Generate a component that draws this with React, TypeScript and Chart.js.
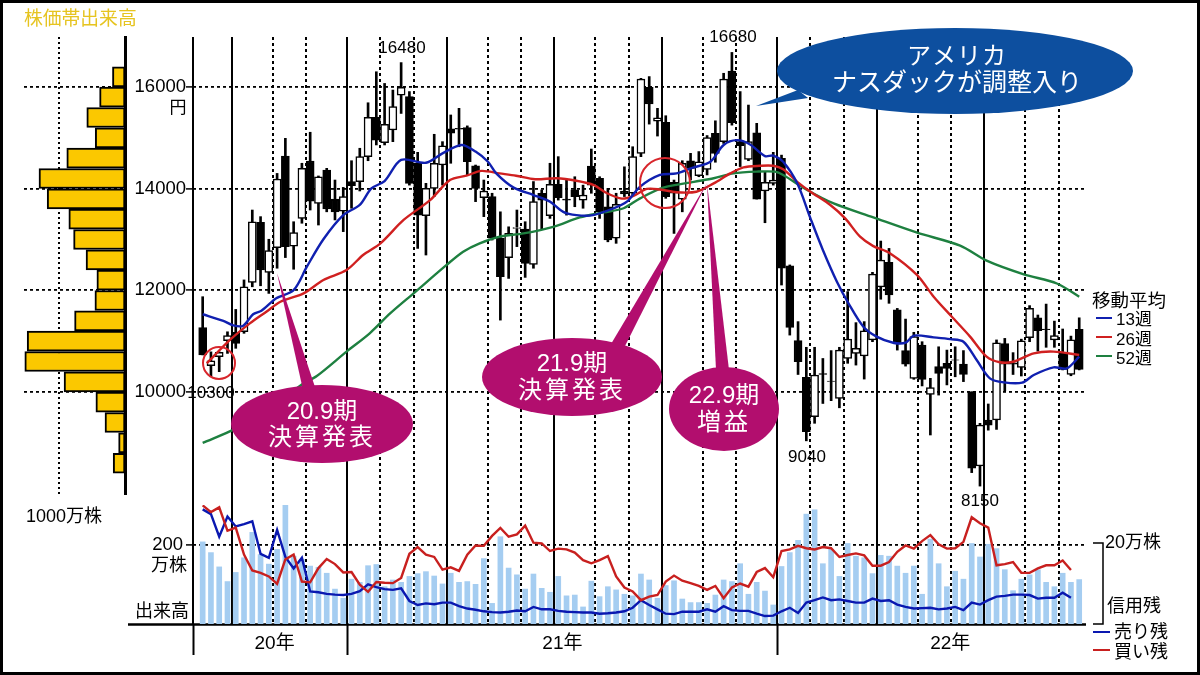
import React, { useEffect, useRef } from "react";
import { Chart, registerables } from "chart.js";
Chart.register(...registerables);

const FONT = '"Liberation Sans","Noto Sans CJK JP",sans-serif';

// weekly candles (yen)
const opens = [11270,10520,10695,11010,11175,11185,12155,13340,12355,12840,14640,12870,13415,14545,13710,14365,13795,13560,14140,14140,14630,15405,14905,15155,15840,15810,14500,13470,14005,14465,15175,15185,15200,14450,13825,13845,13025,12645,13220,13205,12510,13910,13470,14085,13795,13975,13775,14445,14205,13645,13025,13955,13910,14695,15995,15330,15305,14125,13795,14550,14255,14380,15090,14925,16315,14925,14575,15100,13955,14105,14595,12480,11010,10290,9515,10365,10215,9875,10660,10760,10710,11025,12070,12550,11615,10815,10270,10925,9955,10500,10565,10635,10550,10005,8545,9450,9450,10955,10575,10485,11070,11460,11240,11025,10760,10345,11235];
const closes = [10730,10615,10780,11110,10955,12070,13350,12400,12780,14190,12860,13135,14400,13755,14235,13600,13545,13845,14060,14630,15405,14955,15265,15615,15995,14105,13480,14005,14500,14845,15090,15170,14530,14005,13955,13025,12270,13120,13235,12530,13745,13775,14085,13825,13775,13845,13875,14070,13545,12990,13690,13895,14630,16155,15665,15395,13845,13910,14500,14400,14530,15005,14695,16155,15300,14845,14925,13795,14125,14170,12435,11270,10595,9220,10335,10345,10210,10825,11040,10860,11205,12320,12595,11910,10945,10550,11090,10250,10090,10365,10465,10625,10345,8500,9350,9350,10970,10550,10550,11005,11645,11205,11225,11110,10445,11025,10445];
const highs = [11875,10790,10790,11185,11625,12205,13580,13450,13005,14300,14990,13350,14500,15110,14250,14400,14170,14025,14550,14795,15690,16300,16070,15940,16480,15910,14715,14105,15070,14925,15450,15580,15235,14465,14170,13910,13545,13250,13580,13350,14140,13975,14500,14630,14170,14235,14070,14780,14235,14005,13910,14430,14825,16170,16205,15580,15435,14170,14550,14695,14730,15045,15335,16270,16680,15910,15645,15285,14335,14715,14660,12500,11385,10880,10880,10660,10815,10880,11975,11365,11385,12355,12970,12825,11645,11435,11175,10990,10270,10890,10825,10890,10815,10005,9385,9765,11025,11055,10775,11040,11700,11515,11730,11395,11240,11100,11460];
const lows = [10730,10300,10400,10760,10860,11155,12070,12090,11940,12435,12645,12415,13320,13580,13285,13545,13385,13155,13615,13955,14550,14860,14860,14925,15480,14070,12825,12695,13845,14070,14500,14825,14270,13745,13450,12990,11415,12235,12860,12255,12435,13205,13415,13775,13480,13645,13615,13910,13415,12955,12925,13845,13875,14630,15270,15035,13810,13120,13545,14170,14235,14270,14520,14890,15250,14435,14550,13795,13330,14070,12105,11120,10345,9040,9385,9775,9830,9690,10565,10530,10255,10990,11825,11745,10825,10510,10250,10120,9155,9940,10140,10300,10205,8415,8150,9250,9265,10025,10345,10315,10990,10805,10880,10880,10435,10320,10435];

// moving averages
const ma13Weeks = [0,2.5,3.7,4.9,6.1,7.1,8.9,11,12.6,14.6,17,19,20.4,22,24,27,29,31.3,33,34.5,35.5,37.6,40,42,43.6,45.2,47.2,49.7,51.3,52.9,55.3,57.3,59.3,61.4,63,64.6,66.2,68,69,70.2,71.9,73.5,75,76.7,78.1,79.9,81.5,83.5,85,86,88.4,90.4,92,93.6,95.2,96.9,99.1,100.5,102.9,104.5,106];
const ma13Prices = [11530,11400,11310,11305,11530,11600,11845,12005,12465,13005,13480,13680,14005,14150,14565,14510,14695,14860,14730,14530,14300,14020,13875,13745,13545,13480,13480,13615,13745,14040,14270,14300,14415,14530,14860,14955,14870,14640,14650,14530,14105,13415,12795,12170,11745,11285,11090,10970,10970,11110,11075,11040,10990,10630,10270,10190,10185,10335,10485,10465,10695];
const ma26Weeks = [0.5,3.3,5.7,7.7,9.4,12.2,14.6,17.4,19.4,21.5,24.3,27.5,29.9,31.9,33.7,35.9,37.9,40.2,42.8,45.2,47.3,48.9,50.7,52.1,53.7,55.3,57.3,59.7,61.8,63.8,65.4,67.4,69,70.2,71.9,73.5,75.9,77.7,79.5,81.1,83.1,86.4,88.4,90.6,92.8,94.8,96.4,98,100.5,102.9,106];
const ma26Prices = [10565,11025,11350,11580,11775,11940,12205,12400,12695,12925,13385,13775,14170,14255,14350,14300,14255,14185,14205,14155,14070,13910,13805,13860,13995,13985,13930,13940,14105,14300,14420,14450,14450,14380,14135,13940,13680,13415,13055,12870,12730,12300,11875,11480,11090,10695,10585,10595,10760,10795,10730];
const ma52Weeks = [0,4,8,12,13.8,17.4,20.2,22.7,25.5,29.5,31.5,33.5,35.9,38.8,42.4,45.6,48.5,50.9,52.9,55.7,59.4,61.8,64.2,67,69.2,70.2,73.1,76.3,81.1,86.4,91.6,94.8,99.3,103.3,106];
const ma52Prices = [9000,9280,9660,10150,10315,10795,11155,11550,11940,12500,12760,12925,13055,13120,13250,13435,13535,13615,13810,14020,14135,14205,14300,14335,14335,14270,13975,13710,13435,13135,12880,12585,12315,12135,11875];

// weekly volume, 万株
const volume = [207,180,144,107,130,167,231,175,151,188,300,171,163,146,143,128,88,65,113,105,147,150,94,111,105,120,127,132,121,101,128,105,107,100,165,52,220,141,124,88,126,90,80,120,71,73,43,108,69,94,86,75,71,126,111,65,97,109,63,54,54,52,73,111,107,152,75,105,83,48,145,180,211,277,288,152,188,120,203,171,167,127,173,171,146,128,146,75,214,152,94,133,113,203,169,201,190,137,84,113,124,137,105,94,128,105,112];
// margin balances, 万株
const sellBalance = [28.9,27.7,22,27.1,24.6,25.2,25.9,17.7,16.7,23.7,16.9,14,16.7,8.2,8,7.6,7.4,7.3,7.6,8.3,10,9.3,8.8,8.6,9,5.8,4.8,5.2,5,5.4,5.4,4.5,3.9,3.6,3.2,3,2.9,3.1,3.4,3.2,4.3,3.7,3.7,3.3,3.1,3,2.9,2.9,2.6,2.7,2.9,3.2,4.1,6,4.8,3.7,2.6,2.5,3.1,3.1,3.1,3.7,3.1,4.5,3.5,3.3,3.3,2.6,2,2.1,3.2,4.1,2.8,5.4,6,6.7,6,6.2,5.8,5.4,5.4,6.4,5.8,6,4.9,4.3,3.9,4,4.1,3.7,3.9,4.3,3.5,5.4,4.9,6,6.9,7.1,7.4,7.4,7.3,6.4,6.6,6.6,7.9,6.6];
const buyBalance = [29.9,28.2,29.4,23.5,24.3,17.5,13.5,12.9,12,10.1,16.3,17.5,10.7,10.5,14.1,16.4,15.1,13,13.1,9.9,8.1,10.6,10.4,10.3,11.6,17.7,19.4,17.5,16.9,13.7,14.3,13.4,17.5,19.8,19.7,22.2,24.2,22,22.6,24.8,20.5,20.3,18.4,19,18.8,18,16.1,15.3,16.1,17.1,12,9.2,8.2,6,6.9,7.3,10.7,12.2,10.9,10.3,9.6,8.6,9.6,6.5,9.2,10.2,9.4,13.1,14.1,11.8,18.4,18.8,19.7,19.1,18.8,19.4,19.1,16.9,17.4,17.8,17.3,14.7,14.7,15.6,18.2,19.8,19,20.9,22.4,20.1,19,19.1,20.7,26.9,25.4,24.3,14.8,15.1,15.6,12.9,12.9,14,14.8,14.8,16,13.6];

// volume by price band
const bandMids = [16200,15800,15400,15000,14600,14200,13800,13400,13000,12600,12200,11800,11400,11000,10600,10200,9800,9400,9000,8600];
const bandVolumes = [190,385,579,451,882,1303,1179,851,779,590,426,456,764,1482,1518,923,441,303,97,179];

const priceTicks = [10000,12000,14000,16000];
const solidWeeks = [-1.17,3.5,17.5,29.5,42.5,55.5,69.5,81.5,94.5];
const dottedWeeks = [8.5,12.5,21.5,25.5,34.5,38.5,47.5,51.5,60.5,64.5,73.5,77.5,86.5,90.5,99.5,103.5];
const yearEdges = [-1.17,17.5,69.5];
const yearLabelWeeks = [8.7,43.5,90.4];
const yearLabels = ["20年","21年","22年"];

const X_MIN = -1.17, X_MAX = 106.7;
const weeks = opens.map((_, i) => i);
const BLACK = "#000";

function setTicks(values: number[]) {
  return (scale: any) => { scale.ticks = values.map((value) => ({ value })); };
}
function zeroW(scale: any) { scale.width = 0; }
function zeroH(scale: any) { scale.height = 0; }
function height50(scale: any) { scale.height = 50; }
function width193(scale: any) { scale.width = 193; }

function ellipse(ctx: any, cx: number, cy: number, rx: number, ry: number, tail: number[][], color: string) {
  ctx.fillStyle = color;
  ctx.beginPath();
  ctx.ellipse(cx, cy, rx, ry, 0, 0, Math.PI * 2);
  ctx.fill();
  ctx.beginPath();
  ctx.moveTo(tail[0][0], tail[0][1]);
  tail.slice(1).forEach((p) => ctx.lineTo(p[0], p[1]));
  ctx.closePath();
  ctx.fill();
}
function text(ctx: any, s: string, x: number, y: number, size: number, color = BLACK, align = "left", spacing = 0) {
  ctx.font = `${size}px ${FONT}`;
  ctx.fillStyle = color;
  ctx.textAlign = align;
  ctx.textBaseline = "middle";
  ctx.letterSpacing = `${spacing}px`;
  ctx.fillText(s, x, y);
  ctx.letterSpacing = "0px";
}
function rule(ctx: any, pts: number[][], color: string, w: number) {
  ctx.strokeStyle = color;
  ctx.lineWidth = w;
  ctx.setLineDash([]);
  ctx.beginPath();
  ctx.moveTo(pts[0][0], pts[0][1]);
  pts.slice(1).forEach((p) => ctx.lineTo(p[0], p[1]));
  ctx.stroke();
}

const overlay = {
  id: "overlay",
  afterDraw(chart: any) {
    const ctx = chart.ctx;
    ctx.save();
    const MAG = "#B20E6E", BLUE = "#0D4F9F", WHITE = "#fff";
    // red circles
    ctx.strokeStyle = "#D8262C";
    ctx.lineWidth = 2;
    ctx.beginPath(); ctx.arc(219, 363, 16, 0, Math.PI * 2); ctx.stroke();
    ctx.beginPath(); ctx.arc(665, 183, 25, 0, Math.PI * 2); ctx.stroke();
    // callouts
    ellipse(ctx, 322, 424, 91, 39, [[277, 273], [303, 390], [316, 390]], MAG);
    text(ctx, "20.9期", 322, 412, 24, WHITE, "center");
    text(ctx, "決算発表", 322, 438, 24, WHITE, "center", 3);
    ellipse(ctx, 572, 377, 90, 39, [[707, 183], [611, 344], [625, 346]], MAG);
    text(ctx, "21.9期", 572, 364, 24, WHITE, "center");
    text(ctx, "決算発表", 572, 391, 24, WHITE, "center", 3);
    ellipse(ctx, 724, 409, 55, 42, [[707, 183], [716, 370], [729, 370]], MAG);
    text(ctx, "22.9期", 724, 396, 24, WHITE, "center");
    text(ctx, "増益", 724, 423, 24, WHITE, "center", 3);
    ellipse(ctx, 955, 71, 178, 43, [[756, 106], [798, 90], [808, 98]], BLUE);
    text(ctx, "アメリカ", 957, 57, 24, WHITE, "center", 1);
    text(ctx, "ナスダックが調整入り", 957, 84, 25, WHITE, "center");
    // value notes
    text(ctx, "16480", 402, 48, 17, BLACK, "center");
    text(ctx, "16680", 733, 37, 17, BLACK, "center");
    text(ctx, "10300", 211, 393, 17, BLACK, "center");
    text(ctx, "9040", 807, 457, 17, BLACK, "center");
    text(ctx, "8150", 980, 501, 17, BLACK, "center");
    // left side
    text(ctx, "株価帯出来高", 24, 20, 18.8, "#E6C420");
    text(ctx, "1000万株", 26, 517, 18);
    text(ctx, "円", 178, 108, 17, BLACK, "center");
    text(ctx, "万株", 169, 566, 18, BLACK, "center");
    text(ctx, "出来高", 162, 612, 18, BLACK, "center");
    // moving-average key
    text(ctx, "移動平均", 1092, 302, 18.5);
    rule(ctx, [[1096, 318], [1112, 318]], "#1020B0", 2);
    text(ctx, "13週", 1116, 320, 17);
    rule(ctx, [[1096, 337], [1112, 337]], "#D02020", 2);
    text(ctx, "26週", 1116, 340, 17);
    rule(ctx, [[1096, 356], [1112, 356]], "#1E8040", 2);
    text(ctx, "52週", 1116, 359, 17);
    // margin key
    rule(ctx, [[1093, 543], [1103, 543], [1103, 624], [1093, 624]], BLACK, 1.5);
    text(ctx, "20万株", 1105, 543, 18);
    text(ctx, "信用残", 1107, 607, 18);
    rule(ctx, [[1093, 632], [1110, 632]], "#0A18B0", 2);
    text(ctx, "売り残", 1114, 633, 18);
    rule(ctx, [[1093, 650], [1110, 650]], "#C8201F", 2);
    text(ctx, "買い残", 1114, 653, 18);
    // volume baseline
    rule(ctx, [[128, 624.5], [1086, 624.5]], BLACK, 2.5);
    ctx.restore();
  },
};

export default function App() {
  const mainRef = useRef<HTMLCanvasElement>(null);
  const volRef = useRef<HTMLCanvasElement>(null);
  const profRef = useRef<HTMLCanvasElement>(null);

  useEffect(() => {
    document.body.style.margin = "0";
    const allWeeks = [...solidWeeks, ...dottedWeeks].sort((a, b) => a - b);
    const isSolid = (v: number) => solidWeeks.includes(v);

    const main = new Chart(mainRef.current as any, {
      type: "bar",
      data: {
        datasets: [
          { type: "line", label: "13週", data: ma13Weeks.map((x, i) => ({ x, y: ma13Prices[i] })), borderColor: "#1020B0", borderWidth: 2.4, pointRadius: 0, tension: 0.3, order: 0 },
          { type: "line", label: "26週", data: ma26Weeks.map((x, i) => ({ x, y: ma26Prices[i] })), borderColor: "#D02020", borderWidth: 2.4, pointRadius: 0, tension: 0.3, order: 0 },
          { type: "line", label: "52週", data: ma52Weeks.map((x, i) => ({ x, y: ma52Prices[i] })), borderColor: "#1E8040", borderWidth: 2.4, pointRadius: 0, tension: 0.3, order: 0 },
          { label: "body", data: weeks.map((i) => ({ x: i, y: [opens[i], closes[i]] })), backgroundColor: weeks.map((i) => (closes[i] >= opens[i] ? "#fff" : BLACK)), borderColor: BLACK, borderWidth: 1.5, borderSkipped: false, barThickness: 8, grouped: false, order: 1 },
          { label: "wick", data: weeks.map((i) => ({ x: i, y: [lows[i], highs[i]] })), backgroundColor: BLACK, borderWidth: 0, barThickness: 2, grouped: false, order: 2 },
        ] as any,
      },
      options: {
        responsive: false, animation: false, events: [],
        layout: { padding: { left: 0, top: 37, right: 115, bottom: 51 } },
        plugins: { legend: { display: false }, tooltip: { enabled: false } },
        scales: {
          x: {
            type: "linear", min: X_MIN, max: X_MAX, offset: false,
            afterBuildTicks: setTicks(allWeeks), afterFit: zeroH,
            ticks: { display: false, autoSkip: false },
            grid: {
              offset: false, drawTicks: false, color: BLACK,
              lineWidth: (c: any) => 2,
            },
            border: { display: false, dash: (c: any) => (isSolid(c.tick?.value) ? [] : [3, 3]) },
          },
          y: {
            min: 16000 - (624 - 87) * 19.67, max: 16000 + 50 * 19.67,
            afterBuildTicks: setTicks(priceTicks), afterFit: width193,
            ticks: { autoSkip: false, color: BLACK, padding: 0, font: { family: FONT, size: 18.5 }, callback: (v: any) => String(v) },
            grid: { color: BLACK, lineWidth: 1.8, tickLength: 7, tickColor: BLACK, tickWidth: 1.5 },
            border: { display: false, dash: [3, 3] },
          },
        },
      } as any,
      plugins: [overlay],
    });

    const volTicks = [...yearEdges, ...yearLabelWeeks].sort((a, b) => a - b);
    const vol = new Chart(volRef.current as any, {
      type: "bar",
      data: {
        datasets: [
          { type: "line", label: "買い残", yAxisID: "m", data: buyBalance.map((y, x) => ({ x, y })), borderColor: "#C8201F", borderWidth: 2.4, pointRadius: 0, order: 0 },
          { type: "line", label: "売り残", yAxisID: "m", data: sellBalance.map((y, x) => ({ x, y })), borderColor: "#0A18B0", borderWidth: 2.4, pointRadius: 0, order: 0 },
          { label: "出来高", yAxisID: "y", data: volume.map((y, x) => ({ x, y })), backgroundColor: "#A5CDF1", barThickness: 5, order: 1 },
        ] as any,
      },
      options: {
        responsive: false, animation: false, events: [],
        layout: { padding: { left: 0, top: 505, right: 115, bottom: 1 } },
        plugins: { legend: { display: false }, tooltip: { enabled: false } },
        scales: {
          x: {
            type: "linear", min: X_MIN, max: X_MAX, offset: false,
            afterBuildTicks: setTicks(volTicks), afterFit: height50,
            ticks: {
              autoSkip: false, maxRotation: 0, padding: -23, color: BLACK,
              font: { family: FONT, size: 19 },
              callback: (v: any) => { const i = yearLabelWeeks.indexOf(v); return i >= 0 ? yearLabels[i] : ""; },
            },
            grid: {
              offset: false, drawOnChartArea: false, tickLength: 31, tickWidth: 2,
              tickColor: (c: any) => (yearEdges.includes(c.tick?.value) ? BLACK : "rgba(0,0,0,0)"),
            },
            border: { display: false },
          },
          y: {
            min: 0, max: 300,
            afterBuildTicks: setTicks([200]), afterFit: width193,
            ticks: { autoSkip: false, color: BLACK, padding: 3, font: { family: FONT, size: 18.5 }, callback: (v: any) => String(v) },
            grid: { color: BLACK, lineWidth: 1.8, tickLength: 7, tickColor: BLACK, tickWidth: 1.5 },
            border: { display: false, dash: [3, 3] },
          },
          m: { display: false, min: 0, max: 30 },
        },
      } as any,
    });

    const prof = new Chart(profRef.current as any, {
      type: "bar",
      data: {
        datasets: [
          { label: "株価帯出来高", data: bandMids.map((y, i) => ({ y, x: bandVolumes[i] })), backgroundColor: "#FBC800", borderColor: BLACK, borderWidth: 2, borderSkipped: false, barThickness: 20 },
        ] as any,
      },
      options: {
        indexAxis: "y", responsive: false, animation: false, events: [],
        layout: { padding: { left: 24, top: 37, right: 1075, bottom: 181 } },
        plugins: { legend: { display: false }, tooltip: { enabled: false } },
        scales: {
          x: {
            type: "linear", reverse: true, min: 0, max: 1530, offset: false,
            afterBuildTicks: setTicks([1000]), afterFit: zeroH,
            ticks: { display: false, autoSkip: false },
            grid: { offset: false, color: BLACK, lineWidth: 2, drawTicks: false },
            border: { display: false, dash: [2, 3] },
          },
          y: {
            type: "linear", position: "right", offset: false, min: 16000 - (494 - 87) * 19.67, max: 16000 + 50 * 19.67,
            afterBuildTicks: setTicks(priceTicks), afterFit: zeroW,
            ticks: { display: false, autoSkip: false },
            grid: { offset: false, color: BLACK, lineWidth: 1.8, drawTicks: false },
            border: { display: false, dash: [3, 3] },
          },
          edge: {
            type: "linear", position: "right", axis: "y", min: 0, max: 1, afterFit: zeroW,
            ticks: { display: false }, grid: { display: false, drawTicks: false },
            border: { display: true, color: BLACK, width: 3 },
          },
        },
      } as any,
    });

    return () => { main.destroy(); vol.destroy(); prof.destroy(); };
  }, []);

  const layer: React.CSSProperties = { position: "absolute", left: 0, top: 0 };
  return (
    <div style={{ position: "absolute", left: 0, top: 0, width: 1200, height: 675, background: "#fff", overflow: "hidden" }}>
      <canvas ref={profRef} width={1200} height={675} style={layer} />
      <canvas ref={mainRef} width={1200} height={675} style={layer} />
      <canvas ref={volRef} width={1200} height={675} style={layer} />
      <div style={{ ...layer, width: 1200, height: 675, boxSizing: "border-box", border: "3px solid #000", pointerEvents: "none" }} />
    </div>
  );
}
